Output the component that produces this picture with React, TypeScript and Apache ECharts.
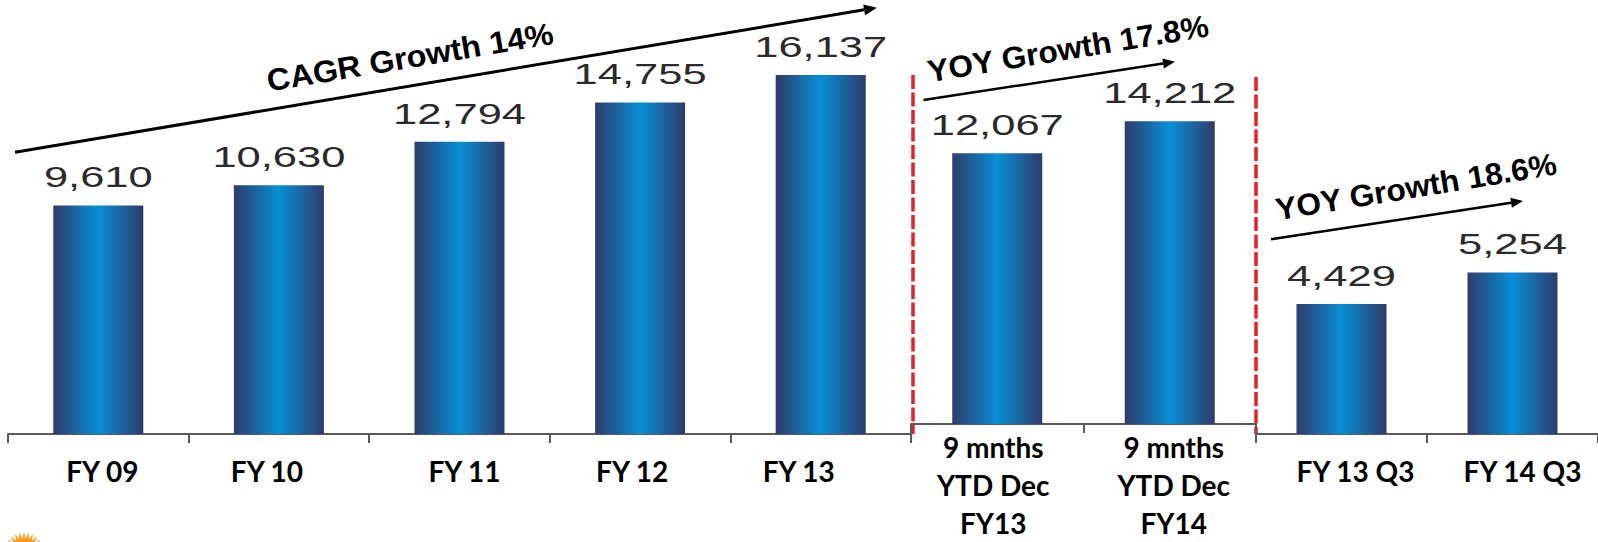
import React, { useEffect, useRef } from "react";
import * as echarts from "echarts";

const categories1 = ["FY 09", "FY 10", "FY 11", "FY 12", "FY 13"];
const values1 = [9610, 10630, 12794, 14755, 16137];
const categories2 = ["9 mnths\nYTD Dec\nFY13", "9 mnths\nYTD Dec\nFY14"];
const values2 = [12067, 14212];
const categories3 = ["FY 13 Q3", "FY 14 Q3"];
const values3 = [4429, 5254];

const growthTexts = ["CAGR Growth 14%", "YOY Growth 17.8%", "YOY Growth 18.6%"];

const yRanges = [
  { min: -1798, max: 18182 },
  { min: -5977, max: 20023 },
  { min: 1035, max: 11478 },
];

// horizontal nudges (px) of the category labels, as placed in the original slide
const labelShift = [
  [4, -12, 5, -8, -22],
  [-4, 4],
  [14, 10],
];

const W = 1598;
const H = 542;
const GRID_TOP = 34;
const GRID_BOTTOM = 108;

function arrow(x1: number, y1: number, x2: number, y2: number, lw: number, hl: number, hw: number) {
  const a = Math.atan2(y2 - y1, x2 - x1);
  const bx = x2 - hl * Math.cos(a);
  const by = y2 - hl * Math.sin(a);
  const px = -Math.sin(a) * hw;
  const py = Math.cos(a) * hw;
  return [
    { type: "line", shape: { x1, y1, x2: bx, y2: by }, style: { stroke: "#000", lineWidth: lw }, silent: true },
    {
      type: "polygon",
      shape: { points: [[x2, y2], [bx + px, by + py], [bx - px, by - py]] },
      style: { fill: "#000" },
      silent: true,
    },
  ];
}

function sun(cx: number, cy: number) {
  const pts: number[][] = [];
  const n = 28;
  for (let i = 0; i < n * 2; i++) {
    const r = i % 2 === 0 ? 21 : 15;
    const ang = (Math.PI * i) / n;
    pts.push([cx + r * Math.cos(ang), cy + r * Math.sin(ang)]);
  }
  return [
    { type: "polygon", shape: { points: pts }, style: { fill: "#f9a825" }, silent: true },
    { type: "circle", shape: { cx, cy, r: 14 }, style: { fill: "#f7941d" }, silent: true },
  ];
}

const barGradient = () =>
  new echarts.graphic.LinearGradient(0, 0, 1, 0, [
    { offset: 0, color: "#2f3b6b" },
    { offset: 0.5, color: "#0790d6" },
    { offset: 1, color: "#2f3b6b" },
  ]);

function renderBar(params: any, api: any) {
  const idx = api.value(0);
  const v = api.value(1);
  const top = api.coord([idx, v]);
  const cs = params.coordSys;
  const base = cs.y + cs.height;
  const w = 90;
  return {
    type: "group",
    children: [
      {
        type: "rect",
        shape: { x: top[0] - w / 2, y: top[1], width: w, height: base - top[1] },
        style: { fill: barGradient() },
      },
      {
        type: "text",
        x: top[0],
        y: top[1] - 28,
        scaleX: 1.5,
        style: {
          text: Number(v).toLocaleString("en-US"),
          fontFamily: "Liberation Sans, Arial, sans-serif",
          fontSize: 29,
          fill: "#2a2a2a",
          align: "center",
          verticalAlign: "middle",
        },
      },
    ],
  };
}

export default function App() {
  const ref = useRef<HTMLDivElement>(null);

  useEffect(() => {
    if (!ref.current) return;
    const chart = echarts.init(ref.current, undefined, { renderer: "svg", width: W, height: H });

    const gridEdges = [
      [8, 911],
      [911, 1256],
      [1256, 1598],
    ];
    const cats = [categories1, categories2, categories3];
    const vals = [values1, values2, values3];
    const margins = [18, 4, 18];

    const grids = gridEdges.map(([l, r]) => ({
      left: l,
      width: r - l,
      top: GRID_TOP,
      bottom: GRID_BOTTOM,
      containLabel: false,
    }));

    const labelFont = {
      fontFamily: "Lato, sans-serif",
      fontWeight: "bold",
      fontSize: 28,
      lineHeight: 38,
      color: "#000",
    };

    const xAxes = cats.map((c, i) => {
      const rich: any = {};
      labelShift[i].forEach((d, k) => {
        rich["s" + k] = {
          ...labelFont,
          align: "center",
          padding: d >= 0 ? [0, 0, 0, 2 * d] : [0, -2 * d, 0, 0],
        };
      });
      return {
        type: "category",
        gridIndex: i,
        data: c,
        boundaryGap: true,
        axisLine: { show: true, onZero: false, lineStyle: { color: "#5a5a5a", width: 2 } },
        axisTick: { show: true, length: 9, lineStyle: { color: "#5a5a5a", width: 2 } },
        axisLabel: {
          interval: 0,
          margin: margins[i],
          ...labelFont,
          align: "center",
          formatter: (value: string, index: number) =>
            value
              .split("\n")
              .map((line) => `{s${index}|${line}}`)
              .join("\n"),
          rich,
        },
        splitLine: { show: false },
      };
    });

    const yAxes = yRanges.map((r, i) => ({
      type: "value",
      gridIndex: i,
      min: r.min,
      max: r.max,
      show: false,
      splitLine: { show: false },
    }));

    const series = vals.map((v, i) => ({
      type: "custom",
      xAxisIndex: i,
      yAxisIndex: i,
      data: v.map((val, k) => [k, val]),
      encode: { x: 0, y: 1 },
      renderItem: renderBar,
      clip: false,
    }));

    const textStyleBase = {
      fontFamily: "Liberation Sans, Arial, sans-serif",
      fontWeight: "bold",
      fontSize: 31,
      fill: "#000",
      align: "center",
      verticalAlign: "middle",
    };

    const graphic: any[] = [
      ...arrow(15, 152.3, 877, 7.7, 3, 13, 5.5),
      ...arrow(923.5, 100, 1175, 61.7, 2.5, 12, 5),
      ...arrow(1271, 239.3, 1523, 201, 2.5, 12, 5),
      {
        type: "text",
        x: 410,
        y: 57,
        rotation: (9.5 * Math.PI) / 180,
        scaleX: 1.04,
        style: { ...textStyleBase, text: growthTexts[0] },
        silent: true,
      },
      {
        type: "text",
        x: 1068,
        y: 49,
        rotation: (9.3 * Math.PI) / 180,
        scaleX: 1.02,
        style: { ...textStyleBase, text: growthTexts[1] },
        silent: true,
      },
      {
        type: "text",
        x: 1416,
        y: 187,
        rotation: (9.3 * Math.PI) / 180,
        scaleX: 1.02,
        style: { ...textStyleBase, text: growthTexts[2] },
        silent: true,
      },
      {
        type: "line",
        shape: { x1: 913, y1: 75, x2: 913, y2: 434 },
        style: { stroke: "#e8202a", lineWidth: 3.5, lineDash: [14, 3.5] },
        silent: true,
      },
      {
        type: "line",
        shape: { x1: 1256, y1: 77, x2: 1256, y2: 434 },
        style: { stroke: "#e8202a", lineWidth: 3.5, lineDash: [14, 3.5] },
        silent: true,
      },
      ...sun(24, 553),
    ];

    chart.setOption({
      animation: false,
      backgroundColor: "#ffffff",
      grid: grids,
      xAxis: xAxes,
      yAxis: yAxes,
      series,
      graphic,
    } as any);

    return () => chart.dispose();
  }, []);

  return (
    <div
      ref={ref}
      style={{ position: "fixed", left: 0, top: 0, width: W, height: H, background: "#fff" }}
    />
  );
}
